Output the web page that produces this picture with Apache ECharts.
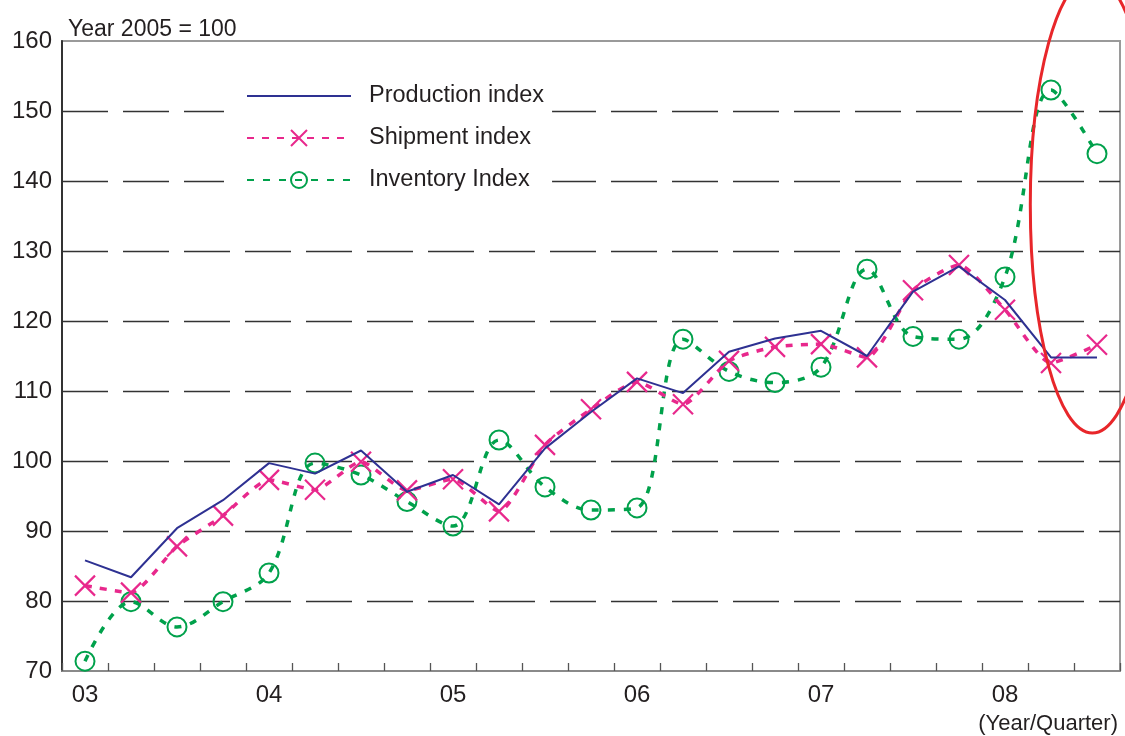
<!DOCTYPE html>
<html>
<head>
<meta charset="utf-8">
<script src="https://cdn.jsdelivr.net/npm/echarts@6/dist/echarts.min.js"></script>
<style>
  html, body { margin: 0; padding: 0; background: #fff; }
  #chart { width: 1125px; height: 736px; }
</style>
</head>
<body>
<div id="chart"></div>
<script>
// ---- data ----
const years = ['03', '04', '05', '06', '07', '08'];
const quarters = ['Q1', 'Q2', 'Q3', 'Q4'];
const categories = [];
years.forEach(y => quarters.forEach(q => categories.push(y + q)));
categories.length = 23; // 03Q1 .. 08Q3

const productionIndex = [85.8, 83.4, 90.4, 94.4, 99.7, 98.2, 101.5, 95.6, 98.0, 93.8, 101.8, 107.0,
  111.8, 109.7, 115.6, 117.5, 118.6, 115.0, 124.2, 127.8, 123.0, 114.8, 114.8];
const shipmentIndex = [82.2, 81.2, 87.8, 92.2, 97.3, 95.9, 99.9, 95.8, 97.4, 92.8, 102.3, 107.4,
  111.3, 108.1, 114.3, 116.3, 116.7, 114.8, 124.4, 128.0, 121.6, 114.0, 116.6];
const inventoryIndex = [71.4, 79.9, 76.3, 79.9, 84.0, 99.7, 98.0, 94.2, 90.7, 103.0, 96.3, 93.0,
  93.3, 117.4, 112.8, 111.2, 113.4, 127.4, 117.8, 117.4, 126.3, 153.0, 143.9];

const yTicks = { min: 70, max: 160, interval: 10 };
const seriesNames = ['Production index', 'Shipment index', 'Inventory Index'];
// highlight ellipse (annotation) anchored in data space
const ellipseCenterValue = 136.6;
const ellipseBottomValue = 104.0;

// ---- styles ----
const FONT = "'Liberation Sans', Arial, Helvetica, sans-serif";
const BLUE = '#2e3192';
const MAGENTA = '#e8288c';
const GREEN = '#00a14b';
const crossPath = 'path://M0,0 L10,10 M10,0 L0,10';

const chart = echarts.init(document.getElementById('chart'), null, { renderer: 'canvas' });

const option = {
  animation: false,
  backgroundColor: '#fff',
  title: [
    { text: 'Year 2005 = 100', left: 63, top: 13,
      textStyle: { fontFamily: FONT, fontSize: 23, fontWeight: 'normal', color: '#231f20' } },
    { text: '(Year/Quarter)', right: 2, top: 708,
      textStyle: { fontFamily: FONT, fontSize: 22, fontWeight: 'normal', color: '#231f20' } }
  ],
  grid: { left: 62, right: 5, top: 41, bottom: 65, show: true, borderColor: '#9a9a9a', borderWidth: 2 },
  legend: {
    orient: 'vertical', left: 224, top: 72, padding: [12, 8, 12, 22],
    backgroundColor: '#fff',
    itemWidth: 104, itemHeight: 20, itemGap: 18,
    data: [
      { name: seriesNames[0], itemStyle: { opacity: 0 } },
      { name: seriesNames[1] },
      { name: seriesNames[2] }
    ],
    textStyle: { fontFamily: FONT, fontSize: 23.5, color: '#231f20', padding: [0, 0, 0, 13] }
  },
  xAxis: {
    type: 'category', data: categories, boundaryGap: true,
    axisLine: { show: true, lineStyle: { color: '#8a8a8a', width: 2 } },
    axisTick: { show: true, inside: true, length: 8, interval: 0, lineStyle: { color: '#555', width: 1.3 } },
    axisLabel: { interval: 3, margin: 12, fontFamily: FONT, fontSize: 24, color: '#231f20',
      formatter: v => v.slice(0, 2) },
    splitLine: { show: false }
  },
  yAxis: {
    type: 'value', min: yTicks.min, max: yTicks.max, interval: yTicks.interval,
    axisLine: { show: true, lineStyle: { color: '#333', width: 2 } },
    axisTick: { show: false },
    axisLabel: { margin: 10, fontFamily: FONT, fontSize: 24, color: '#231f20' },
    splitLine: { show: true, showMinLine: false, showMaxLine: false,
      lineStyle: { color: '#333', width: 1.3, type: [46, 15] } }
  },
  series: [
    { name: seriesNames[0], type: 'line', data: productionIndex, symbol: 'none',
      lineStyle: { color: BLUE, width: 2 }, itemStyle: { color: BLUE }, z: 4 },
    { name: seriesNames[1], type: 'line', data: shipmentIndex, smooth: 0.2,
      symbol: crossPath, symbolSize: 20,
      lineStyle: { color: MAGENTA, width: 3.5, type: [7, 8] },
      itemStyle: { color: 'rgba(0,0,0,0)', borderColor: MAGENTA, borderWidth: 2.2 }, z: 3 },
    { name: seriesNames[2], type: 'line', data: inventoryIndex, smooth: 0.35,
      symbol: 'circle', symbolSize: 19,
      lineStyle: { color: GREEN, width: 3.5, type: [7, 9] },
      itemStyle: { color: 'rgba(0,0,0,0)', borderColor: GREEN, borderWidth: 2 }, z: 2 }
  ]
};
chart.setOption(option);

// annotation ellipse around the last two quarters
const p21 = chart.convertToPixel({ xAxisIndex: 0 }, categories[21]);
const p22 = chart.convertToPixel({ xAxisIndex: 0 }, categories[22]);
const step = p22 - p21;
const cy = chart.convertToPixel({ yAxisIndex: 0 }, ellipseCenterValue);
const by = chart.convertToPixel({ yAxisIndex: 0 }, ellipseBottomValue);
chart.setOption({
  graphic: [{
    type: 'ellipse', silent: true, z: 100,
    shape: { cx: p21 + step * 0.9, cy: cy, rx: step * 1.35, ry: by - cy },
    style: { fill: 'none', stroke: '#e8262a', lineWidth: 3 }
  }]
});
</script>
</body>
</html>
